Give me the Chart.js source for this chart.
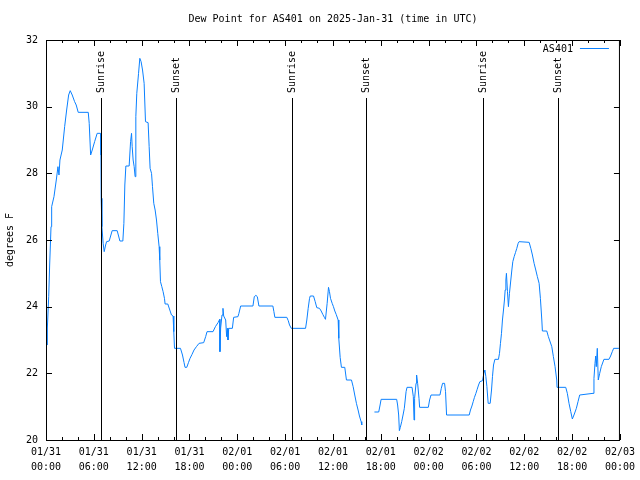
<!DOCTYPE html>
<html lang="en">
<head>
<meta charset="UTF-8">
<title>Dew Point for AS401</title>
<script src="https://cdn.jsdelivr.net/npm/chart.js"></script>
<style>
  html, body { margin: 0; padding: 0; background: #fff; }
  #wrap { width: 640px; height: 480px; }
</style>
</head>
<body>
<div id="wrap"><canvas id="dewChart" width="640" height="480"></canvas></div>
<script>
// hours since 01/31 00:00 UTC, and dew point (F); null = no data
const hours = [
  0.16, 0.17, 0.34, 0.46, 0.63, 0.71, 1.00, 1.29, 1.50, 1.63, 1.75, 2.04, 2.34, 2.59, 2.84, 3.04,
  3.29, 3.59, 3.79, 4.04, 5.30, 5.42, 5.60, 5.80, 6.10, 6.42, 6.85, 6.89, 6.92, 7.01, 7.17, 7.30,
  7.48, 7.60, 7.93, 8.30, 8.93, 9.27, 9.64, 9.77, 9.89, 10.02, 10.43, 10.61, 10.73, 10.81, 10.93,
  11.06, 11.18, 11.27, 11.39, 11.61, 11.77, 11.93, 12.11, 12.31, 12.48, 12.81, 12.94, 13.06, 13.24,
  13.36, 13.52, 13.69, 13.86, 14.02, 14.19, 14.27, 14.36, 14.53, 14.69, 14.86, 14.94, 15.28, 15.53,
  15.74, 15.94, 16.03, 16.12, 16.87, 17.12, 17.32, 17.44, 17.66, 17.87, 18.07, 18.32, 18.57, 18.87,
  19.20, 19.78, 20.03, 20.20, 20.95, 21.25, 21.58, 21.79, 21.82, 21.91, 22.08, 22.20, 22.29, 22.54,
  22.66, 22.75, 22.83, 22.92, 23.38, 23.54, 24.08, 24.20, 24.42, 25.96, 26.13, 26.33, 26.51, 26.71,
  28.46, 28.59, 28.71, 30.21, 30.39, 30.55, 30.77, 32.56, 32.72, 32.89, 33.06, 33.15, 33.56, 33.77,
  33.97, 34.31, 34.52, 34.72, 34.94, 35.06, 35.27, 35.44, 35.56, 35.69, 35.90, 36.06, 36.23, 36.40,
  36.65, 36.73, 36.90, 37.06, 37.48, 37.69, 38.32, 38.53, 38.73, 38.94, 39.15, 39.32, 39.53, 39.61,
  40.40,
  41.20, 41.74, 41.91, 42.04, 43.99, 44.11, 44.24, 44.33, 44.45, 44.62, 44.79, 44.95, 45.17, 45.29,
  45.92, 46.08, 46.17, 46.24, 46.42, 46.49, 46.62, 46.79, 46.87, 47.96, 48.12, 48.30, 49.42, 49.59,
  49.75, 50.00, 50.12, 50.25, 53.09, 53.25, 53.43, 53.59, 53.75, 53.93, 54.09, 54.26, 54.43, 54.76,
  54.93, 55.06, 55.18, 55.31, 55.47, 55.72, 55.89, 56.01, 56.14, 56.31, 56.76, 56.89, 57.01, 57.14,
  57.26, 57.39, 57.51, 57.60, 57.69, 57.76, 57.89, 58.01, 58.14, 58.31, 58.44, 58.56, 58.73, 58.89,
  59.06, 59.23, 59.35, 60.61, 60.82, 61.02, 61.23, 61.44, 61.64, 61.86, 62.02, 62.20, 62.27, 62.82,
  63.02, 63.45, 63.65, 63.86, 64.07, 64.11, 65.20, 65.40, 65.61, 65.83, 66.03, 66.28, 66.53, 66.74,
  66.95, 68.62, 68.74, 68.87, 68.96, 69.03, 69.16, 69.28, 69.46, 69.66, 69.99, 70.62, 70.83, 71.04,
  71.21, 71.87
];
const dewF = [
  22.85, 23.36, 24.30, 25.25, 26.40, 27.00, 27.30, 27.80, 28.20, 27.95, 28.40, 28.70, 29.40, 29.90, 30.35, 30.48,
  30.35, 30.15, 30.05, 29.83, 29.83, 29.50, 28.55, 28.70, 28.95, 29.20, 29.20, 28.55, 27.25, 26.40, 25.90, 25.65,
  25.85, 25.95, 25.97, 26.28, 26.28, 25.97, 25.97, 26.50, 27.65, 28.22, 28.22, 28.95, 29.20, 28.80, 28.40,
  28.20, 27.90, 29.70, 30.40, 31.00, 31.45, 31.35, 31.10, 30.70, 29.55, 29.52, 28.80, 28.15, 28.00,
  27.60, 27.10, 26.90, 26.60, 26.20, 25.80, 25.40, 24.75, 24.60, 24.45, 24.25, 24.08, 24.08, 23.90,
  23.75, 23.72, 23.25, 22.75, 22.75, 22.55, 22.32, 22.18, 22.18, 22.32, 22.45, 22.57, 22.70, 22.80,
  22.90, 22.92, 23.10, 23.25, 23.25, 23.40, 23.52, 23.62, 22.65, 23.36, 23.75, 23.95, 23.72, 23.60,
  23.10, 23.35, 23.00, 23.35, 23.35, 23.68, 23.70, 23.80, 24.02, 24.02, 24.30, 24.34, 24.30, 24.02,
  24.02, 23.85, 23.68, 23.68, 23.58, 23.45, 23.35, 23.35, 23.60, 23.95, 24.25, 24.32, 24.32, 24.15,
  23.97, 23.95, 23.87, 23.77, 23.67, 23.62, 24.10, 24.58, 24.45, 24.25, 24.10, 24.00, 23.87, 23.77,
  23.60, 23.05, 22.48, 22.18, 22.18, 21.80, 21.80, 21.60, 21.35, 21.10, 20.90, 20.72, 20.55, 20.45,
  null,
  20.84, 20.84, 21.05, 21.22, 21.22, 21.05, 20.75, 20.28, 20.38, 20.55, 20.75, 20.95, 21.45, 21.58,
  21.58, 21.30, 20.60, 21.25, 21.70, 21.95, 21.70, 21.25, 20.98, 20.98, 21.20, 21.35, 21.35, 21.55,
  21.70, 21.70, 21.45, 20.75, 20.75, 20.90, 21.02, 21.15, 21.28, 21.40, 21.52, 21.65, 21.75, 21.78,
  22.00, 22.10, 21.90, 21.60, 21.10, 21.10, 21.50, 21.90, 22.25, 22.42, 22.42, 22.60, 22.90, 23.20,
  23.60, 23.90, 24.20, 24.50, 24.80, 25.00, 24.45, 24.00, 24.40, 24.80, 25.10, 25.35, 25.50, 25.62,
  25.75, 25.90, 25.95, 25.93, 25.75, 25.55, 25.30, 25.10, 24.90, 24.70, 24.25, 23.60, 23.27, 23.27,
  23.10, 22.80, 22.50, 22.20, 21.80, 21.58, 21.58, 21.40, 21.10, 20.85, 20.63, 20.78, 20.95, 21.15,
  21.35, 21.40, 21.85, 22.30, 22.52, 22.20, 22.75, 21.80, 22.00, 22.20, 22.42, 22.42, 22.52, 22.65,
  22.75, 22.75
];

// sunrise / sunset markers (hours since 01/31 00:00)
const sunTimes = [6.89, 16.28, 30.80, 40.19, 54.84, 64.24];
const sunLabels = ['Sunrise', 'Sunset', 'Sunrise', 'Sunset', 'Sunrise', 'Sunset'];

// x tick labels every 6 h
const tickDates = ['01/31', '01/31', '01/31', '01/31', '02/01', '02/01', '02/01', '02/01', '02/02', '02/02', '02/02', '02/02', '02/03'];
const tickTimes = ['00:00', '06:00', '12:00', '18:00', '00:00', '06:00', '12:00', '18:00', '00:00', '06:00', '12:00', '18:00', '00:00'];

const titleText = 'Dew Point for AS401 on 2025-Jan-31 (time in UTC)';
const yTitle = 'degrees F';
const seriesName = 'AS401';
const lineColor = '#0a80ff';
const monoFont = '"DejaVu Sans Mono", "Liberation Mono", monospace';

const points = hours.map((h, i) => ({ x: h, y: dewF[i] }));

// gnuplot-like frame, inside ticks, sun lines, labels, legend
const gnuplotDecor = {
  id: 'gnuplotDecor',
  afterDatasetsDraw(chart) {
    const { ctx, chartArea: a, scales } = chart;
    const xs = scales.x, ys = scales.y;
    ctx.save();
    ctx.strokeStyle = '#000';
    ctx.lineWidth = 1;

    // sunrise / sunset vertical lines
    sunTimes.forEach((t, i) => {
      const px = Math.round(xs.getPixelForValue(t)) + 0.5;
      ctx.beginPath();
      ctx.moveTo(px, a.bottom);
      ctx.lineTo(px, a.top + 58);
      ctx.stroke();
      ctx.save();
      ctx.translate(px, a.top + 53);
      ctx.rotate(-Math.PI / 2);
      ctx.fillStyle = '#000';
      ctx.font = '10px ' + monoFont;
      ctx.textAlign = 'left';
      ctx.textBaseline = 'middle';
      ctx.fillText(sunLabels[i], 0, 0);
      ctx.restore();
    });

    // frame
    ctx.strokeRect(a.left + 0.5, a.top + 0.5, a.right - a.left - 1, a.bottom - a.top);

    // x ticks: major every 6 h, minor every 2 h
    ctx.beginPath();
    for (let h = 0; h <= 72; h += 2) {
      const px = Math.round(xs.getPixelForValue(h)) + 0.5;
      const len = h % 6 === 0 ? 6 : 3;
      ctx.moveTo(px, a.bottom); ctx.lineTo(px, a.bottom - len);
      ctx.moveTo(px, a.top); ctx.lineTo(px, a.top + len);
    }
    // y ticks
    ys.ticks.forEach(tk => {
      const py = Math.round(ys.getPixelForValue(tk.value)) + 0.5;
      ctx.moveTo(a.left, py); ctx.lineTo(a.left + 6, py);
      ctx.moveTo(a.right, py); ctx.lineTo(a.right - 6, py);
    });
    ctx.stroke();

    // legend
    ctx.fillStyle = '#000';
    ctx.font = '10px ' + monoFont;
    ctx.textAlign = 'right';
    ctx.textBaseline = 'middle';
    ctx.fillText(seriesName, a.right - 47, a.top + 9);
    ctx.strokeStyle = lineColor;
    ctx.beginPath();
    ctx.moveTo(a.right - 40, a.top + 8.5);
    ctx.lineTo(a.right - 11, a.top + 8.5);
    ctx.stroke();

    // title and y axis title
    ctx.textAlign = 'center';
    ctx.fillText(titleText, (a.left + a.right) / 2, 19);
    ctx.save();
    ctx.translate(10, (a.top + a.bottom) / 2);
    ctx.rotate(-Math.PI / 2);
    ctx.fillText(yTitle, 0, 0);
    ctx.restore();
    ctx.restore();
  }
};

new Chart(document.getElementById('dewChart'), {
  type: 'line',
  data: {
    datasets: [{
      label: seriesName,
      data: points,
      borderColor: lineColor,
      borderWidth: 1,
      pointRadius: 0,
      tension: 0,
      spanGaps: false,
      fill: false
    }]
  },
  options: {
    responsive: false,
    animation: false,
    layout: { padding: { top: 40, right: 19, left: 0, bottom: 0 } },
    plugins: { legend: { display: false }, title: { display: false }, tooltip: { enabled: false } },
    scales: {
      x: {
        type: 'linear',
        min: 0, max: 72,
        afterFit(s) { s.height = 40; },
        grid: { display: true, drawOnChartArea: false, drawTicks: false },
        border: { display: false },
        ticks: {
          stepSize: 6,
          autoSkip: false,
          maxRotation: 0,
          padding: 5,
          color: '#000',
          font: { family: monoFont, size: 10, lineHeight: 1.5 },
          callback: (v) => { const i = Math.round(v / 6); return [tickDates[i], tickTimes[i]]; }
        }
      },
      y: {
        min: 20, max: 32,
        afterFit(s) { s.width = 46; },
        grid: { display: true, drawOnChartArea: false, drawTicks: false },
        border: { display: false },
        ticks: {
          stepSize: 2,
          padding: 8,
          color: '#000',
          font: { family: monoFont, size: 10 }
        }
      }
    }
  },
  plugins: [gnuplotDecor]
});
</script>
</body>
</html>
